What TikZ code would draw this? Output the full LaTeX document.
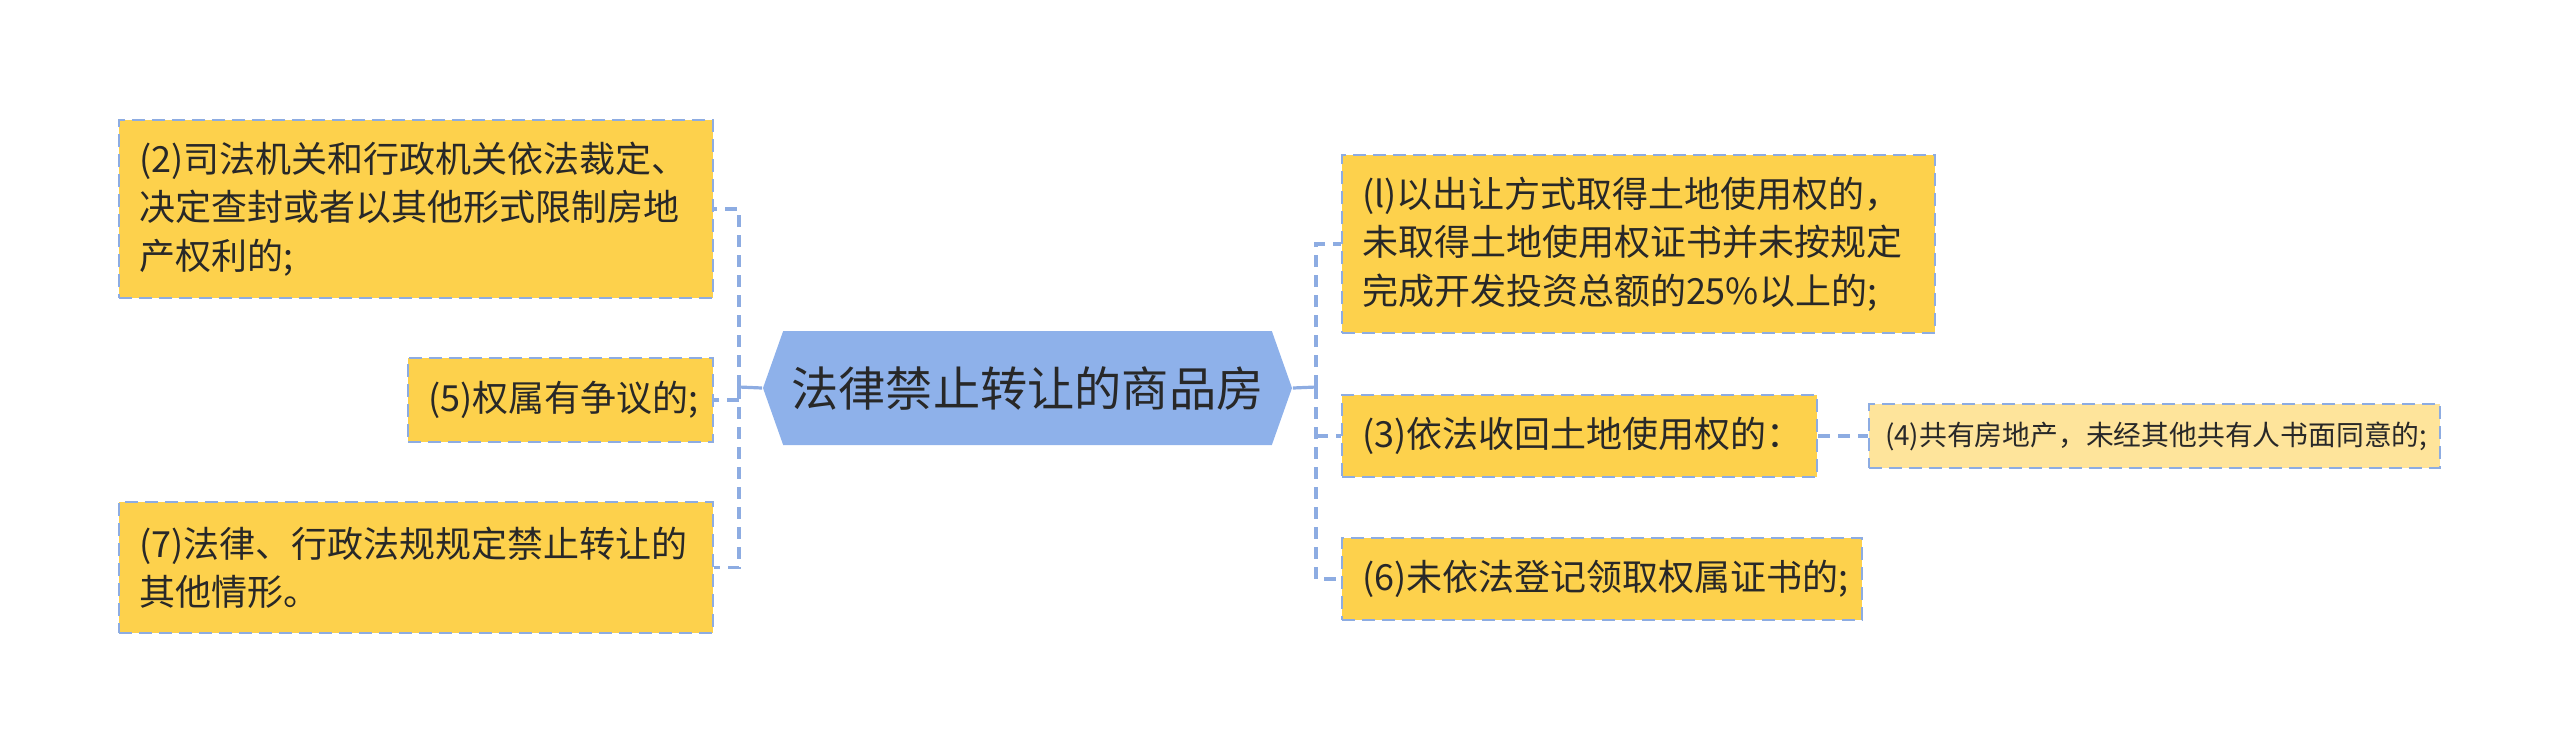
\documentclass[tikz,border=0pt]{standalone}
\usepackage{fontspec}
\newfontfamily\cjk{Noto Sans CJK SC}
\usetikzlibrary{shapes.symbols}
\definecolor{boxfill}{RGB}{253,209,76}
\definecolor{subfill}{RGB}{254,228,155}
\definecolor{linkblue}{RGB}{141,172,226}
\definecolor{rootfill}{RGB}{142,177,234}
\definecolor{txt}{RGB}{40,40,40}
\begin{document}
\begin{tikzpicture}[x=0.25pt,y=-0.25pt,
    item/.style={draw=linkblue,line width=0.5pt,dash pattern=on 3.2pt off 1.8pt,fill=boxfill,
        inner xsep=5pt,inner ysep=0pt,align=left,text=txt,font=\cjk\fontsize{9}{12.1}\selectfont},
    sub/.style={item,fill=subfill,inner xsep=4pt,font=\cjk\fontsize{6.95}{9}\selectfont},
    link/.style={linkblue,line width=0.8pt,dash pattern=on 3pt off 2pt}]
        \useasboundingbox (0,0) rectangle (2560,753);

        \node[signal,signal to=west and east,signal pointer angle=141,fill=rootfill,
            minimum width=132.25pt,minimum height=28.5pt,inner sep=0pt,text=txt,
            font=\cjk\fontsize{11.8}{14}\selectfont] (root) at (1027.5,388) {法律禁止转让的商品房};

        \node[item,text width=138.5pt,minimum height=44.5pt] (b2) at (416,209)
            {(2)司法机关和行政机关依法裁定、\\决定查封或者以其他形式限制房地\\产权利的;};
        \node[item,text width=66.25pt,minimum height=21pt] (b5) at (560.5,400)
            {(5)权属有争议的;};
        \node[item,text width=138.5pt,minimum height=32.75pt] (b7) at (416,567.5)
            {(7)法律、行政法规规定禁止转让的\\其他情形。};
        \node[item,text width=138.25pt,minimum height=44.5pt] (b1) at (1638.5,244)
            {(l)以出让方式取得土地使用权的，\\未取得土地使用权证书并未按规定\\完成开发投资总额的25\%以上的;};
        \node[item,text width=108.75pt,minimum height=20.5pt] (b3) at (1579.5,436)
            {(3)依法收回土地使用权的：};
        \node[item,text width=120pt,minimum height=20.5pt] (b6) at (1602,579)
            {(6)未依法登记领取权属证书的;};
        \node[sub,text width=134.75pt,minimum height=16pt] (b4) at (2154.5,436)
            {(4)共有房地产，未经其他共有人书面同意的;};

        \coordinate (lj) at (739,387);
        \coordinate (rj) at (1316,387);

        \draw[linkblue,line width=0.8pt] (root.west) -- (lj) (root.east) -- (rj);
        \draw[link] (lj) |- (b2.east) (lj) |- (b7.east) (b5.east -| lj) -- (b5.east);
        \draw[link] (rj) |- (b1.west) (rj) |- (b6.west) (b3.west -| rj) -- (b3.west);
        \draw[link] (b3.east) -- (b4.west);
    \end{tikzpicture}
\end{document}
